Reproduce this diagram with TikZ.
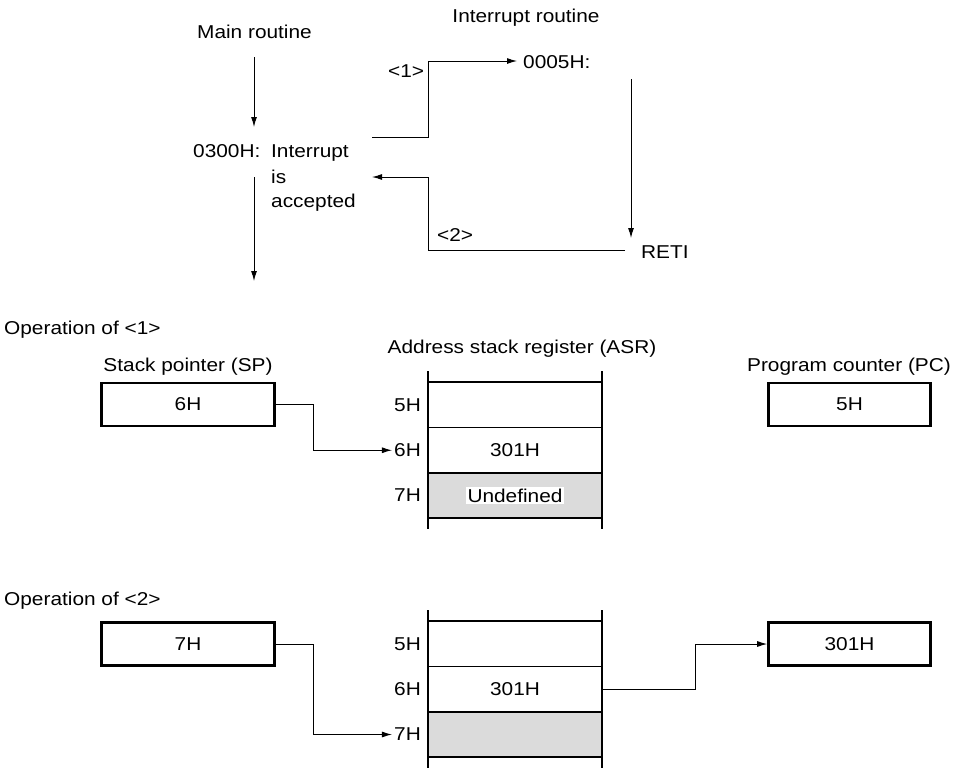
\documentclass[tikz,border=0pt]{standalone}
\usepackage{fontspec}
\setmainfont{Liberation Sans}[FakeStretch=1.12]
\usetikzlibrary{arrows.meta}
\begin{document}
\begin{tikzpicture}[x=1pt,y=-1pt,
  txt/.style={inner sep=0pt, font=\fontsize{18.6}{22}\selectfont},
  regbox/.style={draw, line width=2.6pt, minimum width=173pt, minimum height=43pt, inner sep=0pt, font=\fontsize{18.6}{22}\selectfont},
  pcbox/.style={regbox, minimum width=162pt},
  cell/.style={minimum width=174pt, minimum height=45pt, inner sep=0pt, font=\fontsize{18.6}{22}\selectfont},
  arr/.style={-{Latex[length=10pt,width=6pt]}, line width=1pt},
  ln/.style={line width=1pt},
  wall/.style={line width=2.3pt},
  rung/.style={line width=1.2pt},
  shade/.style={fill=black!14}]
\useasboundingbox (0,0) rectangle (964,769);

% ---------- top: routines ----------
\node[txt, anchor=base] (main) at (254.5,38) {Main routine};
\node[txt, anchor=base] (intr) at (526,22) {Interrupt routine};
\node[txt, anchor=base west] (a300) at (193,157) {0300H:};
\node[txt, anchor=base west] (t1) at (271,157) {Interrupt};
\node[txt, anchor=base west] (t2) at (271,183) {is};
\node[txt, anchor=base west] (t3) at (271,207) {accepted};
\node[txt, anchor=base west] (l1) at (388,77) {<1>};
\node[txt, anchor=base west] (l2) at (437,241) {<2>};
\node[txt, anchor=base west] (v5) at (523,68) {0005H:};
\node[txt, anchor=base west] (reti) at (641,258) {RETI};

\coordinate (mA) at (254,57);
\coordinate (mB) at (254,127);
\coordinate (mC) at (254,177);
\coordinate (mD) at (254,281);
\coordinate (c1) at (372,137);
\coordinate (v5in) at (517,61);
\coordinate (iA) at (631,79);
\coordinate (iB) at (631,238);
\coordinate (r1) at (625,250);
\coordinate (r2) at (372,177);

\draw[arr] (mA) -- (mB);
\draw[arr] (mC) -- (mD);
\draw[arr] (c1) -- ++(56,0) |- (v5in);
\draw[arr] (iA) -- (iB);
\draw[arr] (r1) -- ++(-197,0) |- (r2);

% ---------- operation of <1> ----------
\node[txt, anchor=base west] (op1) at (4,334) {Operation of <1>};
\node[txt, anchor=base] (spl) at (188,371) {Stack pointer (SP)};
\node[txt, anchor=base] (asrl) at (522,353) {Address stack register (ASR)};
\node[txt, anchor=base] (pcl) at (849,371) {Program counter (PC)};

\node[regbox] (sp1) at (188,404.5) {6H};
\node[pcbox] (pc1) at (849.5,404.5) {5H};

\fill[shade] (428,473) rectangle (602,518);
\draw[wall] (428,371) -- (428,529);
\draw[wall] (602,371) -- (602,529);
\draw[rung] (428,382) -- (602,382);
\draw[rung] (428,427.5) -- (602,427.5);
\draw[rung] (428,473) -- (602,473);
\draw[rung] (428,518) -- (602,518);

\node[cell] (u5) at (515,404.75) {};
\node[cell] (u6) at (515,450.25) {301H};
\node[cell] (u7) at (515,495.5) {};
\node[txt, fill=white, inner sep=2pt] (und) at (u7) {Undefined};
\node[txt, anchor=east] (k5) at (421,404.75) {5H};
\node[txt, anchor=east] (k6) at (421,450.25) {6H};
\node[txt, anchor=east] (k7) at (421,495.5) {7H};

\draw[arr, shorten >=2pt] (sp1.east) -- ++(38,0) |- (k6.west);

% ---------- operation of <2> ----------
\node[txt, anchor=base west] (op2) at (4,605) {Operation of <2>};
\node[regbox] (sp2) at (188,644) {7H};
\node[pcbox] (pc2) at (849.5,644) {301H};

\fill[shade] (428,712) rectangle (602,757);
\draw[wall] (428,610) -- (428,768);
\draw[wall] (602,610) -- (602,768);
\draw[rung] (428,621) -- (602,621);
\draw[rung] (428,666.5) -- (602,666.5);
\draw[rung] (428,712) -- (602,712);
\draw[rung] (428,757) -- (602,757);

\node[cell] (w5) at (515,643.75) {};
\node[cell] (w6) at (515,689.25) {301H};
\node[cell] (w7) at (515,734.5) {};
\node[txt, anchor=east] (q5) at (421,643.75) {5H};
\node[txt, anchor=east] (q6) at (421,689.25) {6H};
\node[txt, anchor=east] (q7) at (421,734.5) {7H};

\draw[arr, shorten >=2pt] (sp2.east) -- ++(38,0) |- (q7.west);
\draw[arr] (w6.east) -- ++(93,0) |- (pc2.west);
\end{tikzpicture}
\end{document}
